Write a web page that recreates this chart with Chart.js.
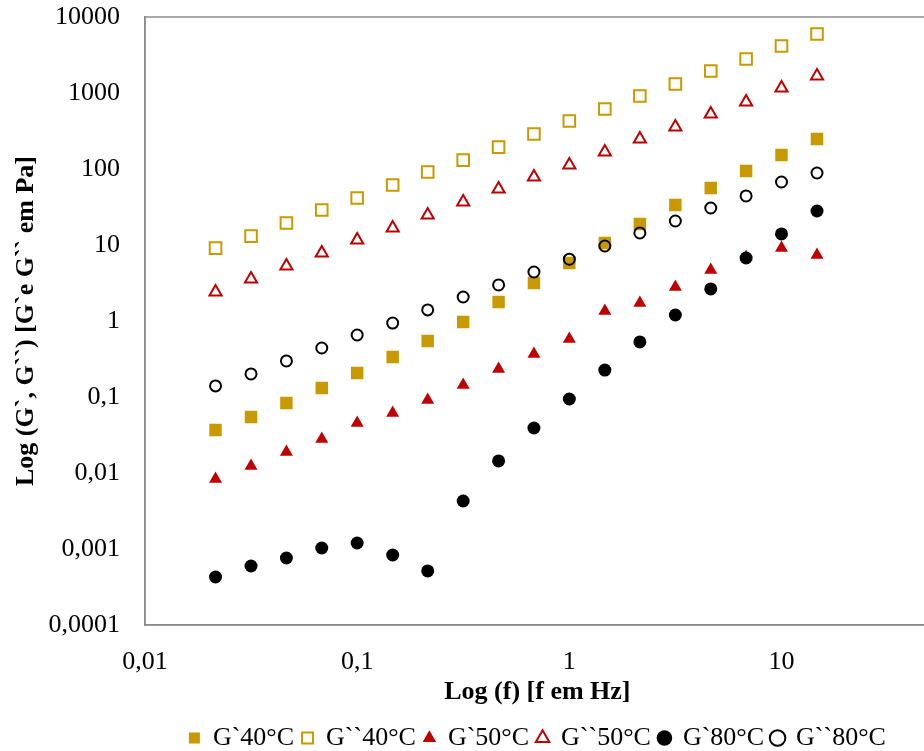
<!DOCTYPE html>
<html><head><meta charset="utf-8">
<script src="https://cdn.jsdelivr.net/npm/chart.js@4.4.1/dist/chart.umd.min.js"></script>
<style>
html,body{margin:0;padding:0;overflow:hidden;background:#fff;width:924px;height:751px}
#wrap{position:absolute;left:0;top:0;width:940px;height:751px}
</style></head>
<body><div id="wrap"><canvas id="c" width="940" height="751"></canvas></div>
<script>
const frequencies = [0.0215,0.0316,0.0464,0.0681,0.1,0.147,0.215,0.316,0.464,0.681,1,1.47,2.15,3.16,4.64,6.81,10,14.7];
const gPrime40 = [0.0368,0.0546,0.0834,0.131,0.207,0.336,0.546,0.97,1.78,3.16,5.8,10.6,18.9,33.6,56.2,94.2,153,248];
const gDouble40 = [9.1,13.1,19.5,28.9,41.5,61.5,91.4,131,194,289,429,615,914,1312,1945,2800,4150,5975];
const gPrime50 = [0.00834,0.0124,0.0189,0.028,0.0455,0.0615,0.0914,0.144,0.233,0.368,0.58,1.35,1.72,2.8,4.69,6.95,9.15,7.4];
const gDouble50 = [2.41,3.57,5.3,7.85,11.6,16.7,24.8,36.8,54.6,78.5,113,167,248,357,529,762,1164,1675];
const gPrime80 = [0.000428,0.000597,0.000762,0.00103,0.0012,0.000834,0.000514,0.00428,0.0144,0.0391,0.0942,0.226,0.53,1.2,2.64,6.75,14,28];
const gDouble80 = [0.14,0.201,0.298,0.441,0.654,0.94,1.40,2.07,2.98,4.41,6.5,9.7,14.4,20.7,30.7,44.2,67.4,88.6];
const seriesNames = ['G`40°C','G``40°C','G`50°C','G``50°C','G`80°C','G``80°C'];
const xTicks = [0.01,0.1,1,10];
const yTicks = [0.0001,0.001,0.01,0.1,1,10,100,1000,10000];
const xMin = 0.01, xMax = 50, yMin = 0.0001, yMax = 10000;

const GOLD = '#C99A00', RED = '#C00000', BLACK = '#000000', NONE = 'rgba(0,0,0,0)';
const pts = arr => arr.map((v,i)=>({x:frequencies[i], y:v}));
const styles = [
  {pointStyle:'rect', bg:GOLD, bc:GOLD, r:8.8, bw:0},
  {pointStyle:'rect', bg:NONE, bc:GOLD, r:8.2, bw:2},
  {pointStyle:'triangle', bg:RED, bc:RED, r:7.5, bw:0},
  {pointStyle:'triangle', bg:NONE, bc:RED, r:7, bw:2},
  {pointStyle:'circle', bg:BLACK, bc:BLACK, r:6.5, bw:0},
  {pointStyle:'circle', bg:NONE, bc:BLACK, r:5.5, bw:2},
];
const allSeries = [gPrime40,gDouble40,gPrime50,gDouble50,gPrime80,gDouble80];
const datasets = allSeries.map((s,i)=>({
  label: seriesNames[i],
  data: pts(s),
  pointStyle: styles[i].pointStyle,
  backgroundColor: styles[i].bg,
  borderColor: styles[i].bc,
  pointRadius: styles[i].r,
  pointHoverRadius: styles[i].r,
  pointBorderWidth: styles[i].bw,
  borderWidth: styles[i].bw,
  order: 10 - i,
  showLine: false
}));

const fmt = v => String(v).replace('.', ',');
const AXIS = '#8c8c8c';
const SERIF = '"Liberation Serif", "Times New Roman", serif';
const frame = {
  id:'frame',
  afterDraw(chart){
    const {ctx, chartArea:a} = chart;
    ctx.save();
    ctx.strokeStyle = AXIS; ctx.lineWidth = 1.5;
    ctx.strokeRect(a.left, a.top, a.right-a.left, a.bottom-a.top);
    ctx.restore();
  }
};

new Chart(document.getElementById('c'), {
  type:'scatter',
  data:{datasets},
  plugins:[frame],
  options:{
    responsive:false,
    animation:false,
    layout:{padding:{top:17, right:4, left:0, bottom:-10}},
    plugins:{
      tooltip:{enabled:false},
      legend:{
        position:'bottom',
        fullSize:false,
        labels:{
          usePointStyle:true,
          boxWidth:11, boxHeight:11,
          padding:8,
          color:'#000',
          font:{family:SERIF, size:26},
          sort:(a,b)=>a.datasetIndex-b.datasetIndex
        }
      }
    },
    scales:{
      x:{
        type:'logarithmic', min:xMin, max:xMax, position:'bottom',
        afterBuildTicks: s => { s.ticks = xTicks.map(v=>({value:v})); },
        afterFit: s => { s.height = 92; s.paddingLeft = 0; s.paddingRight = 0; },
        grid:{display:false, drawTicks:false},
        border:{display:true, color:AXIS, width:1.5},
        ticks:{color:'#000', padding:22, autoSkip:false, maxRotation:0,
          font:{family:SERIF, size:26},
          callback: v => fmt(v)},
        title:{display:true, text:'Log (f) [f em Hz]', color:'#000', padding:{top:0,bottom:9},
          font:{family:SERIF, size:26, weight:'bold'}}
      },
      y:{
        type:'logarithmic', min:yMin, max:yMax,
        afterBuildTicks: s => { s.ticks = yTicks.map(v=>({value:v})); },
        afterFit: s => { s.width = 145; s.paddingTop = 0; s.paddingBottom = 0; },
        grid:{display:false, drawTicks:false},
        border:{display:true, color:AXIS, width:1.5},
        ticks:{color:'#000', padding:25, autoSkip:false,
          font:{family:SERIF, size:26},
          callback: v => fmt(v)},
        title:{display:true, text:'Log (G`, G``) [G`e G`` em Pa]', color:'#000', padding:{top:11,bottom:0},
          font:{family:SERIF, size:26, weight:'bold'}}
      }
    }
  }
});
</script>
</body></html>
